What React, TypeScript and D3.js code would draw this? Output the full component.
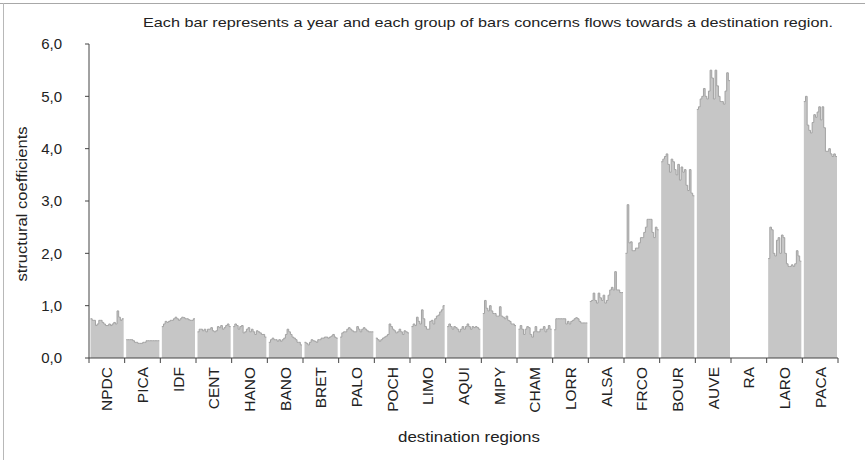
import React from "react";
import * as d3 from "d3";

// Destination regions (one group of bars each)
const regions = [
  "NPDC", "PICA", "IDF", "CENT", "HANO", "BANO", "BRET", "PALO", "POCH", "LIMO", "AQUI",
  "MIPY", "CHAM", "LORR", "ALSA", "FRCO", "BOUR", "AUVE", "RA", "LARO", "PACA",
];

// Years (one bar each inside a group)
const years = d3.range(1978, 1998).map(String);

// Structural coefficients by destination region, one value per year
const NPDC = [0.75, 0.72, 0.72, 0.62, 0.65, 0.72, 0.72, 0.68, 0.65, 0.62, 0.62, 0.65, 0.62, 0.65, 0.68, 0.65, 0.9, 0.78, 0.72, 0.75];
const PICA = [0.35, 0.35, 0.35, 0.35, 0.33, 0.3, 0.3, 0.28, 0.28, 0.28, 0.3, 0.3, 0.33, 0.33, 0.33, 0.33, 0.33, 0.33, 0.33, 0.33];
const IDF = [0.6, 0.65, 0.7, 0.68, 0.7, 0.72, 0.72, 0.75, 0.78, 0.75, 0.72, 0.75, 0.78, 0.77, 0.75, 0.75, 0.73, 0.72, 0.72, 0.75];
const CENT = [0.5, 0.55, 0.55, 0.52, 0.55, 0.5, 0.55, 0.55, 0.58, 0.52, 0.5, 0.52, 0.6, 0.58, 0.62, 0.55, 0.58, 0.62, 0.65, 0.6];
const HANO = [0.6, 0.65, 0.62, 0.55, 0.6, 0.62, 0.48, 0.5, 0.55, 0.58, 0.5, 0.55, 0.5, 0.45, 0.52, 0.5, 0.48, 0.45, 0.45, 0.4];
const BANO = [0.3, 0.35, 0.38, 0.35, 0.35, 0.32, 0.35, 0.32, 0.35, 0.38, 0.45, 0.55, 0.5, 0.45, 0.4, 0.38, 0.35, 0.3, 0.3, 0.25];
const BRET = [0.3, 0.28, 0.25, 0.3, 0.35, 0.33, 0.32, 0.3, 0.35, 0.35, 0.38, 0.38, 0.4, 0.4, 0.38, 0.4, 0.42, 0.45, 0.4, 0.38];
const PALO = [0.4, 0.48, 0.5, 0.5, 0.55, 0.58, 0.55, 0.52, 0.5, 0.5, 0.6, 0.55, 0.5, 0.55, 0.58, 0.55, 0.52, 0.5, 0.5, 0.5];
const POCH = [0.38, 0.35, 0.32, 0.35, 0.38, 0.4, 0.42, 0.45, 0.65, 0.6, 0.55, 0.52, 0.48, 0.5, 0.55, 0.5, 0.45, 0.52, 0.5, 0.48];
const LIMO = [0.6, 0.65, 0.62, 0.78, 0.7, 0.65, 0.92, 0.75, 0.6, 0.55, 0.55, 0.7, 0.72, 0.65, 0.75, 0.8, 0.82, 0.88, 0.92, 1.0];
const AQUI = [0.6, 0.65, 0.6, 0.55, 0.6, 0.58, 0.55, 0.5, 0.55, 0.6, 0.55, 0.6, 0.65, 0.6, 0.55, 0.6, 0.58, 0.6, 0.58, 0.55];
const MIPY = [0.85, 1.1, 0.95, 0.9, 1.0, 0.9, 0.85, 0.85, 0.8, 0.8, 0.98, 0.8, 0.78, 0.75, 0.8, 0.72, 0.7, 0.65, 0.65, 0.62];
const CHAM = [0.55, 0.62, 0.55, 0.45, 0.55, 0.6, 0.58, 0.45, 0.4, 0.5, 0.6, 0.5, 0.5, 0.55, 0.55, 0.6, 0.5, 0.55, 0.62, 0.55];
const LORR = [0.54, 0.75, 0.75, 0.75, 0.75, 0.75, 0.75, 0.65, 0.7, 0.65, 0.7, 0.72, 0.75, 0.77, 0.75, 0.7, 0.67, 0.67, 0.67, 0.67];
const ALSA = [1.08, 1.1, 1.24, 1.1, 1.05, 1.24, 1.15, 1.1, 1.2, 1.05, 1.1, 1.2, 1.3, 1.35, 1.3, 1.65, 1.3, 1.3, 1.25, 1.25];
const FRCO = [2.0, 2.93, 2.2, 2.22, 2.05, 2.05, 2.1, 2.1, 2.2, 2.3, 2.3, 2.4, 2.5, 2.65, 2.65, 2.65, 2.4, 2.3, 2.5, 2.45];
const BOUR = [3.75, 3.8, 3.85, 3.9, 3.7, 3.55, 3.8, 3.75, 3.6, 3.5, 3.7, 3.4, 3.65, 3.55, 3.6, 3.3, 3.2, 3.6, 3.15, 3.1];
const AUVE = [4.75, 4.8, 4.95, 5.0, 5.15, 5.0, 4.95, 5.1, 5.5, 5.35, 4.95, 5.5, 5.2, 5.0, 4.9, 4.9, 4.85, 5.1, 5.45, 5.3];
const RA: number[] = [];
const LARO = [1.9, 2.5, 2.45, 2.0, 1.95, 2.25, 2.3, 2.0, 2.35, 2.3, 2.0, 1.8, 1.75, 1.75, 1.78, 1.75, 1.8, 2.05, 1.95, 1.85];
const PACA = [4.9, 5.0, 4.45, 4.35, 4.3, 4.5, 4.65, 4.6, 4.7, 4.8, 4.55, 4.8, 4.4, 3.95, 3.95, 4.0, 3.9, 3.85, 3.9, 3.85];

const series = [
  NPDC, PICA, IDF, CENT, HANO, BANO, BRET, PALO, POCH, LIMO, AQUI,
  MIPY, CHAM, LORR, ALSA, FRCO, BOUR, AUVE, RA, LARO, PACA,
];

const yTicks = [0, 1, 2, 3, 4, 5, 6];

const W = 865;
const H = 460;
const left = 89;
const right = 838;
const top = 44;
const bottom = 358;

const font = "'Liberation Sans', Arial, sans-serif";

export default function App() {
  const x = d3.scaleBand<string>().domain(regions).range([left, right]).paddingInner(0).paddingOuter(0);
  const inner = d3.scaleBand<string>().domain(years).range([1.5, x.bandwidth() - 1]).padding(0);
  const y = d3.scaleLinear().domain([0, 6]).range([bottom, top]);
  const fmt = (v: number) => d3.format(".1f")(v).replace(".", ",");

  // Each group is drawn as one stepped outline: a bar per year, joined without seams
  const groupPoints = (gi: number) => {
    const x0 = x(regions[gi])!;
    const bw = inner.bandwidth();
    const pts: [number, number][] = [];
    series[gi].forEach((v, i) => {
      const bx = x0 + inner(years[i])!;
      pts.push([bx, y(v)], [bx + bw, y(v)]);
    });
    return pts;
  };
  const area = d3.area<[number, number]>().x((d) => d[0]).y0(bottom).y1((d) => d[1]).curve(d3.curveLinear);
  const topLine = d3.line<[number, number]>().x((d) => d[0]).y((d) => d[1]);

  return (
    <div style={{ position: "absolute", left: 0, top: 0 }}>
      <svg width={W} height={H} style={{ display: "block", background: "#fff" }} fontFamily={font}>
        {/* frame */}
        <line x1={0} x2={W} y1={3.5} y2={3.5} stroke="#a8a8a8" strokeWidth={1.2} />
        <line x1={3.5} x2={3.5} y1={3} y2={H} stroke="#b8b8b8" strokeWidth={1} />

        <text x={143} y={27} fontSize={13.5} fill="#222" textLength={690} lengthAdjust="spacingAndGlyphs">
          Each bar represents a year and each group of bars concerns flows towards a destination region.
        </text>

        {/* bars */}
        {regions.map((r, gi) => {
          const pts = groupPoints(gi);
          if (!pts.length) return null;
          return (
            <g key={r}>
              <path d={area(pts)!} fill="#c6c6c6" />
              <path d={topLine(pts)!} fill="none" stroke="#a2a2a2" strokeWidth={1} />
            </g>
          );
        })}

        {/* y axis */}
        <line x1={left} x2={left} y1={top} y2={bottom} stroke="#444" strokeWidth={1} />
        {yTicks.map((t) => (
          <g key={t}>
            <line x1={left - 4} x2={left} y1={y(t)} y2={y(t)} stroke="#444" />
            <text x={62} y={y(t)} dy="0.35em" textAnchor="end" fontSize={15} fill="#222">
              {fmt(t)}
            </text>
          </g>
        ))}
        <text
          transform={`translate(22,${(top + bottom) / 2 + 3}) rotate(-90)`}
          textAnchor="middle"
          dy="0.35em"
          fontSize={14}
          fill="#222"
          textLength={155}
          lengthAdjust="spacingAndGlyphs"
        >
          structural coefficients
        </text>

        {/* x axis */}
        <line x1={left} x2={right} y1={bottom} y2={bottom} stroke="#444" strokeWidth={1.2} />
        {[...regions.map((r) => x(r)!), right].map((px, i) => (
          <line key={i} x1={px} x2={px} y1={bottom} y2={bottom + 5} stroke="#444" />
        ))}
        {regions.map((r) => (
          <text
            key={r}
            transform={`translate(${x(r)! + x.bandwidth() / 2},${bottom + 9}) rotate(-90)`}
            textAnchor="end"
            dy="0.35em"
            fontSize={15.5}
            fill="#222"
          >
            {r}
          </text>
        ))}
        <text
          x={469}
          y={442}
          textAnchor="middle"
          fontSize={14.5}
          fill="#222"
          textLength={142}
          lengthAdjust="spacingAndGlyphs"
        >
          destination regions
        </text>
      </svg>
    </div>
  );
}
